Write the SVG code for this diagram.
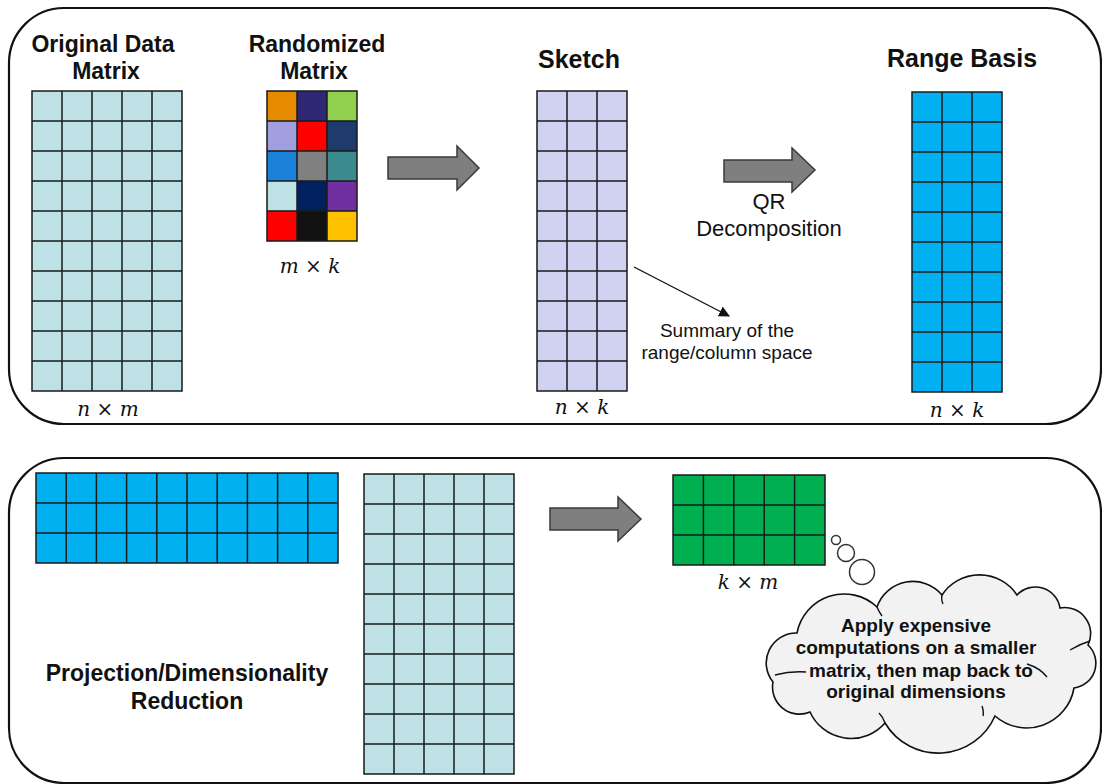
<svg xmlns="http://www.w3.org/2000/svg" width="1102" height="784" viewBox="0 0 1102 784">
<defs>
<style>
.panel{fill:none;stroke:#111;stroke-width:2.2}
.grid{fill:none;stroke:#1a1a1a;stroke-width:1.5}
.title{font-family:"Liberation Sans",Arial,sans-serif;font-weight:bold;font-size:23px;fill:#111;text-anchor:middle}
.big{font-size:25px}
.math{font-family:"DejaVu Serif","Liberation Serif",serif;font-size:20px;fill:#111;text-anchor:middle}
.math .v{font-style:italic}
.lbl{font-family:"Liberation Sans",Arial,sans-serif;font-size:22px;fill:#111;text-anchor:middle}
.small{font-size:19px}
.cloudtxt{font-family:"Liberation Sans",Arial,sans-serif;font-weight:bold;font-size:19px;fill:#111;text-anchor:middle}
.garrow{fill:#7f7f7f;stroke:#3a3a3a;stroke-width:1.5;stroke-linejoin:miter}
.bub{fill:#fff;stroke:#333;stroke-width:1.5}
</style>
<marker id="tri" viewBox="0 0 10 10" refX="9" refY="5" markerWidth="11" markerHeight="11" markerUnits="userSpaceOnUse" orient="auto">
<path d="M0,0 L10,5 L0,10 z" fill="#111"/>
</marker>
</defs>
<rect width="1102" height="784" fill="#fff"/>

<g id="panel-top"><rect class="panel" x="9" y="8" width="1092" height="416" rx="55" ry="55"/></g>
<g id="panel-bottom"><rect class="panel" x="9" y="458" width="1092" height="325" rx="55" ry="55"/></g>

<g id="original-data-matrix">
<text class="title" x="103" y="52">Original Data</text>
<text class="title" x="106" y="79">Matrix</text>
<rect x="32" y="91" width="150" height="300" fill="#bde1e4"/>
<path class="grid" d="M32 91H182V391H32Z M62 91V391 M92 91V391 M122 91V391 M152 91V391 M32 121H182 M32 151H182 M32 181H182 M32 211H182 M32 241H182 M32 271H182 M32 301H182 M32 331H182 M32 361H182"/>
<text class="math" x="108" y="416"><tspan class="v">n</tspan> × <tspan class="v">m</tspan></text>
</g>

<g id="randomized-matrix">
<text class="title" x="317" y="52">Randomized</text>
<text class="title" x="314" y="79">Matrix</text>
<rect x="267" y="91" width="30" height="30" fill="#e68a00"/>
<rect x="297" y="91" width="30" height="30" fill="#2e2874"/>
<rect x="327" y="91" width="30" height="30" fill="#92d050"/>
<rect x="267" y="121" width="30" height="30" fill="#a29fdf"/>
<rect x="297" y="121" width="30" height="30" fill="#ff0000"/>
<rect x="327" y="121" width="30" height="30" fill="#1f3b6b"/>
<rect x="267" y="151" width="30" height="30" fill="#1a80d9"/>
<rect x="297" y="151" width="30" height="30" fill="#808080"/>
<rect x="327" y="151" width="30" height="30" fill="#3a8a8e"/>
<rect x="267" y="181" width="30" height="30" fill="#bde1e4"/>
<rect x="297" y="181" width="30" height="30" fill="#002060"/>
<rect x="327" y="181" width="30" height="30" fill="#7030a0"/>
<rect x="267" y="211" width="30" height="30" fill="#ff0000"/>
<rect x="297" y="211" width="30" height="30" fill="#111111"/>
<rect x="327" y="211" width="30" height="30" fill="#ffc000"/>
<path class="grid" d="M267 91H357V241H267Z M297 91V241 M327 91V241 M267 121H357 M267 151H357 M267 181H357 M267 211H357"/>
<text class="math" x="310" y="273"><tspan class="v">m</tspan> × <tspan class="v">k</tspan></text>
</g>

<g id="sketch">
<text class="title big" x="579" y="68">Sketch</text>
<rect x="537" y="91" width="90" height="300" fill="#d1d1f1"/>
<path class="grid" d="M537 91H627V391H537Z M567 91V391 M597 91V391 M537 121H627 M537 151H627 M537 181H627 M537 211H627 M537 241H627 M537 271H627 M537 301H627 M537 331H627 M537 361H627"/>
<text class="math" x="582" y="414"><tspan class="v">n</tspan> × <tspan class="v">k</tspan></text>
</g>

<g id="range-basis">
<text class="title big" x="962" y="67">Range Basis</text>
<rect x="912" y="92" width="90" height="300" fill="#00b0f0"/>
<path class="grid" d="M912 92H1002V392H912Z M942 92V392 M972 92V392 M912 122H1002 M912 152H1002 M912 182H1002 M912 212H1002 M912 242H1002 M912 272H1002 M912 302H1002 M912 332H1002 M912 362H1002"/>
<text class="math" x="957" y="417"><tspan class="v">n</tspan> × <tspan class="v">k</tspan></text>
</g>

<g id="summary-note">
<text class="lbl small" x="727" y="337">Summary of the</text>
<text class="lbl small" x="727" y="359">range/column space</text>
</g>

<g id="qr-label">
<text class="lbl" x="769" y="209">QR</text>
<text class="lbl" x="769" y="236">Decomposition</text>
</g>

<g id="range-basis-transposed">
<rect x="36" y="473" width="302" height="90" fill="#00b0f0"/>
<path class="grid" d="M36 473H338V563H36Z M66.2 473V563 M96.4 473V563 M126.6 473V563 M156.8 473V563 M187 473V563 M217.2 473V563 M247.4 473V563 M277.6 473V563 M307.8 473V563 M36 503H338 M36 533H338"/>
</g>

<g id="data-matrix-bottom">
<rect x="364" y="474" width="150" height="300" fill="#bde1e4"/>
<path class="grid" d="M364 474H514V774H364Z M394 474V774 M424 474V774 M454 474V774 M484 474V774 M364 504H514 M364 534H514 M364 564H514 M364 594H514 M364 624H514 M364 654H514 M364 684H514 M364 714H514 M364 744H514"/>
</g>

<g id="projection-label">
<text class="title" x="187" y="681">Projection/Dimensionality</text>
<text class="title" x="187" y="709">Reduction</text>
</g>

<g id="small-matrix">
<rect x="673" y="475" width="152" height="90" fill="#00b050"/>
<path class="grid" d="M673 475H825V565H673Z M703.4 475V565 M733.8 475V565 M764.2 475V565 M794.6 475V565 M673 505H825 M673 535H825"/>
<text class="math" x="748" y="589"><tspan class="v">k</tspan> × <tspan class="v">m</tspan></text>
</g>

<g id="thought-cloud">
<circle class="bub" cx="836" cy="540" r="4.5"/>
<circle class="bub" cx="846" cy="553" r="8.5"/>
<circle class="bub" cx="862" cy="572" r="12.5"/>
<path d="M797 633 A48 48 0 0 1 877 607 A38 38 0 0 1 942 595 A45 45 0 0 1 1017 595 A25 25 0 0 1 1060 608 A26 26 0 0 1 1088 645 A25 25 0 0 1 1074 688 A48 48 0 0 1 995 716 A62 62 0 0 1 885 723 A45 45 0 0 1 810 712 A27 27 0 0 1 773 682 A30 30 0 0 1 797 633 Z" fill="#f2f2f2" stroke="#111" stroke-width="1.6"/>
<path d="M775 675 Q790 671 806 672 M1027 664 Q1040 668 1047 677 M1070 650 Q1080 644 1090 641 M982 706 Q984 711 983 716 M877 607 Q879 612 882 616 M942 595 Q941 600 943 604 M885 723 Q883 717 879 713" fill="none" stroke="#111" stroke-width="1.4"/>
<text class="cloudtxt" x="916" y="632">Apply expensive</text>
<text class="cloudtxt" x="916" y="654">computations on a smaller</text>
<text class="cloudtxt" x="921" y="677">matrix, then map back to</text>
<text class="cloudtxt" x="916" y="698">original dimensions</text>
</g>

<g id="connectors">
<path class="garrow" d="M388 157H457V146L479 168L457 190V179H388Z"/>
<path class="garrow" d="M724 160H792V148L815 170L792 192V182H724Z"/>
<path class="garrow" d="M550 508H618V497L641 519L618 541V530H550Z"/>
<line x1="634" y1="267" x2="729" y2="316" stroke="#111" stroke-width="1.4" marker-end="url(#tri)"/>
</g>
</svg>
